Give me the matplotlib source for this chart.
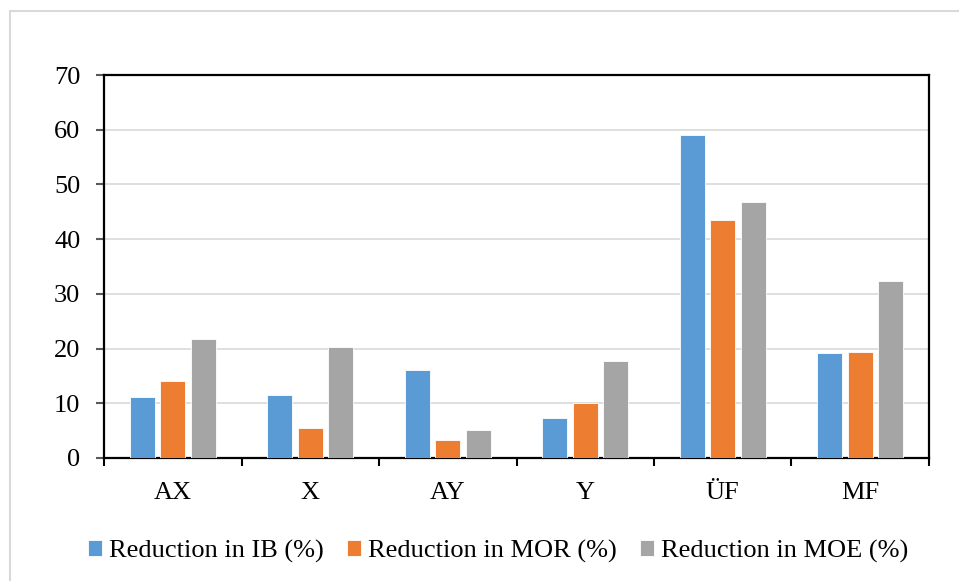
import matplotlib
matplotlib.use("Agg")
import matplotlib.pyplot as plt
from matplotlib.patches import Rectangle
import numpy as np

plt.rcParams['font.family'] = ['Liberation Serif', 'DejaVu Serif']

categories = ["AX", "X", "AY", "Y", "ÜF", "MF"]
ib = [11.2, 11.5, 16.0, 7.3, 59.0, 19.2]
mor = [14.1, 5.5, 3.3, 10.1, 43.5, 19.3]
moe = [21.7, 20.3, 5.2, 17.7, 46.8, 32.3]
series_names = ["Reduction in IB (%)", "Reduction in MOR (%)", "Reduction in MOE (%)"]
colors = ["#5B9BD5", "#ED7D31", "#A5A5A5"]

W, H = 959, 581
fig = plt.figure(figsize=(W / 100, H / 100), dpi=100)
ax = fig.add_axes([104 / W, 1 - 458 / H, (929 - 104) / W, (458 - 75) / H])

x = np.arange(len(categories))
step = 0.222
width = 0.18
for i, vals in enumerate([ib, mor, moe]):
    ax.bar(x + (i - 1) * step, vals, width, color=colors[i], edgecolor="white",
           linewidth=0.6, label=series_names[i], zorder=3)

ax.set_xlim(-0.5, len(categories) - 0.5)
ax.set_ylim(0, 70)
ax.set_yticks(range(0, 71, 10))
ax.yaxis.grid(True, color="#d9d9d9", linewidth=1.2, zorder=0)

# category labels centred, tick marks on the boundaries
ax.set_xticks(x)
ax.set_xticklabels(categories)
ax.set_xticks(np.arange(-0.5, len(categories)), minor=True)
ax.tick_params(axis="x", which="major", length=0, pad=17, labelsize=19)
ax.tick_params(axis="x", which="minor", length=6, width=1.5, color="black")
ax.tick_params(axis="y", length=6, width=1.5, color="#595959", pad=11, labelsize=19)

for s in ax.spines.values():
    s.set_linewidth(1.6)
    s.set_color("black")

fig.legend(loc="center", bbox_to_anchor=(498 / W, 1 - 551 / H), ncol=3,
           frameon=False, fontsize=19, handlelength=0.53, handleheight=0.53,
           handletextpad=0.25, columnspacing=0.9)

# light outer chart border
fig.add_artist(Rectangle((10 / W, -0.1), 1.2, 1.1 - 11 / H, transform=fig.transFigure,
                         fill=False, edgecolor="#d9d9d9", linewidth=1.5))

fig.savefig("out.png", dpi=100)
